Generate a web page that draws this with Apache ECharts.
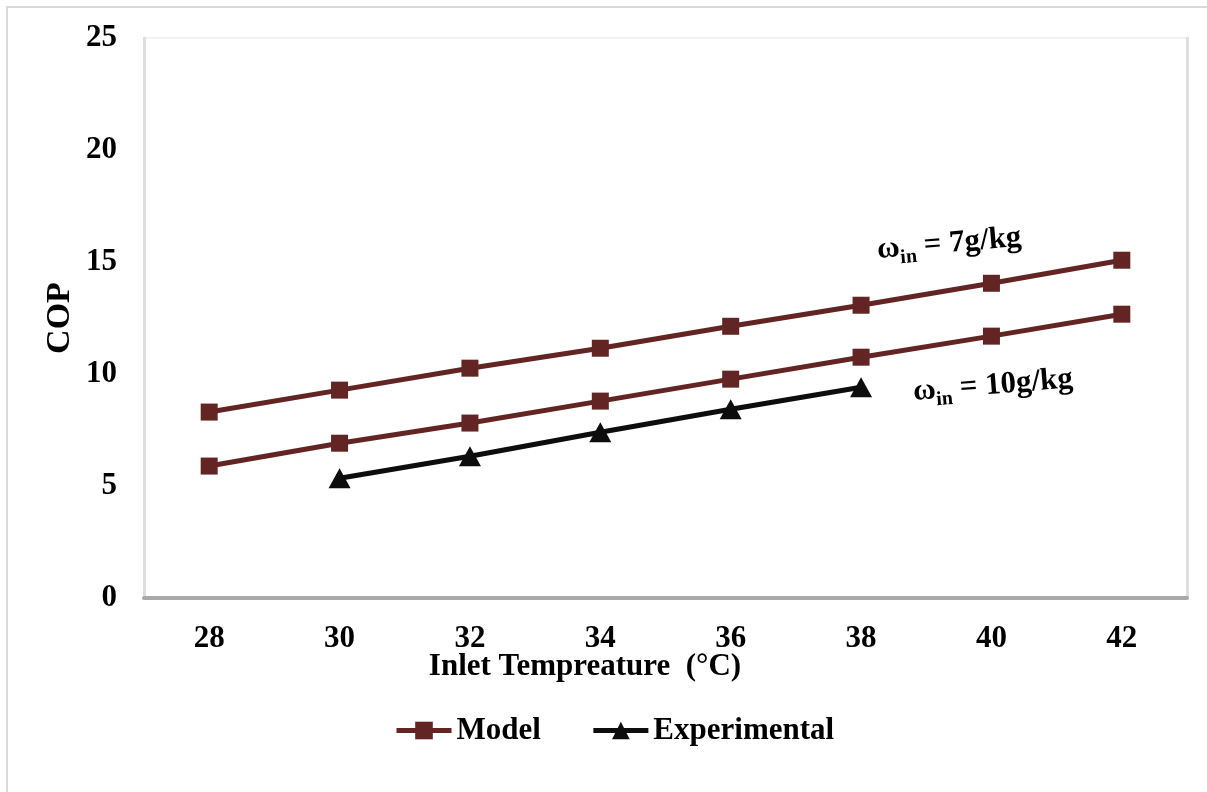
<!DOCTYPE html>
<html>
<head>
<meta charset="utf-8">
<script src="https://cdn.jsdelivr.net/npm/echarts@6/dist/echarts.min.js"></script>
<style>
  html, body { margin: 0; padding: 0; background: #fff; }
  #chart { width: 1207px; height: 792px; }
</style>
</head>
<body>
<div id="chart"></div>
<script>
// Inlet temperature categories (°C)
const categories = ['28', '30', '32', '34', '36', '38', '40', '42'];
// Model COP for inlet humidity 7 g/kg
const model7 = [8.3, 9.28, 10.26, 11.15, 12.13, 13.07, 14.05, 15.08];
// Model COP for inlet humidity 10 g/kg
const model10 = [5.89, 6.91, 7.81, 8.79, 9.77, 10.75, 11.69, 12.67];
// Measured COP (30–38 °C only)
const experimental = [null, 5.35, 6.33, 7.4, 8.43, 9.41, null, null];
// Value axis ticks
const yTicks = { min: 0, max: 25, interval: 5 };

const FONT = 'Liberation Serif';
const MAROON = '#632523';
const BLACK = '#0d0d0d';

const chart = echarts.init(document.getElementById('chart'));

const labelStyle = { fontFamily: FONT, fontWeight: 'bold', fontSize: 31, color: '#000' };

// Humidity annotation: ω with a lowered "in" subscript, tilted along the lines
function humidityLabel(x, y, rot, rest) {
  return {
    type: 'text', x: x, y: y, rotation: rot, silent: true,
    style: {
      text: '{w|ω}{s|in}{t| = ' + rest + '}',
      align: 'left', verticalAlign: 'middle', fill: '#000',
      rich: {
        w: { font: 'bold 31px ' + FONT, fill: '#000', lineHeight: 40, verticalAlign: 'middle' },
        s: { font: 'bold 20px ' + FONT, fill: '#000', lineHeight: 21, verticalAlign: 'bottom' },
        t: { font: 'bold 31px ' + FONT, fill: '#000', lineHeight: 40, verticalAlign: 'middle' }
      }
    }
  };
}

chart.setOption({
  backgroundColor: '#fff',
  animation: false,
  grid: {
    left: 144, right: 20, top: 38, bottom: 194,
    show: true, borderColor: '#f2f2f2', borderWidth: 2
  },
  xAxis: {
    type: 'category',
    data: categories,
    boundaryGap: true,
    axisLine: { show: true, lineStyle: { color: '#a9a9a9', width: 4 } },
    axisTick: { show: false },
    axisLabel: Object.assign({ margin: 25 }, labelStyle),
    splitLine: { show: false }
  },
  yAxis: [
    {
      type: 'value',
      min: yTicks.min, max: yTicks.max, interval: yTicks.interval,
      axisLine: { show: true, lineStyle: { color: '#dedede', width: 3 } },
      axisTick: { show: false },
      axisLabel: Object.assign({ margin: 27 }, labelStyle),
      splitLine: { show: false }
    },
    {
      type: 'value', position: 'right',
      min: yTicks.min, max: yTicks.max, interval: yTicks.interval,
      axisLine: { show: true, lineStyle: { color: '#dedede', width: 3 } },
      axisTick: { show: false },
      axisLabel: { show: false },
      splitLine: { show: false }
    }
  ],
  legend: {
    left: 389, top: 710,
    itemWidth: 55, itemHeight: 22, itemGap: 50,
    lineStyle: { width: 5 },
    textStyle: labelStyle,
    data: ['Model', 'Experimental']
  },
  series: [
    {
      name: 'Model', type: 'line', data: model7,
      symbol: 'rect', symbolSize: 17,
      lineStyle: { color: MAROON, width: 5 },
      itemStyle: { color: MAROON }
    },
    {
      name: 'Model', type: 'line', data: model10,
      symbol: 'rect', symbolSize: 17,
      lineStyle: { color: MAROON, width: 5 },
      itemStyle: { color: MAROON }
    },
    {
      name: 'Experimental', type: 'line', data: experimental,
      symbol: 'triangle', symbolSize: [22, 20],
      lineStyle: { color: BLACK, width: 5 },
      itemStyle: { color: BLACK }
    }
  ],
  graphic: [
    {
      type: 'rect', silent: true,
      shape: { x: 7, y: 7, width: 1300, height: 900 },
      style: { fill: 'none', stroke: '#d9d9d9', lineWidth: 2 }
    },
    {
      type: 'text', x: 60, y: 318, rotation: Math.PI / 2, silent: true,
      style: {
        text: 'COP', font: 'bold 34px ' + FONT, fill: '#000',
        align: 'center', verticalAlign: 'middle'
      }
    },
    {
      type: 'text', x: 585, y: 667, silent: true,
      style: {
        text: 'Inlet Tempreature  (°C)', font: 'bold 31px ' + FONT, fill: '#000',
        align: 'center', verticalAlign: 'middle'
      }
    },
    humidityLabel(877, 250, 0.085, '7g/kg'),
    humidityLabel(913, 392, 0.08, '10g/kg')
  ]
});
</script>
</body>
</html>
